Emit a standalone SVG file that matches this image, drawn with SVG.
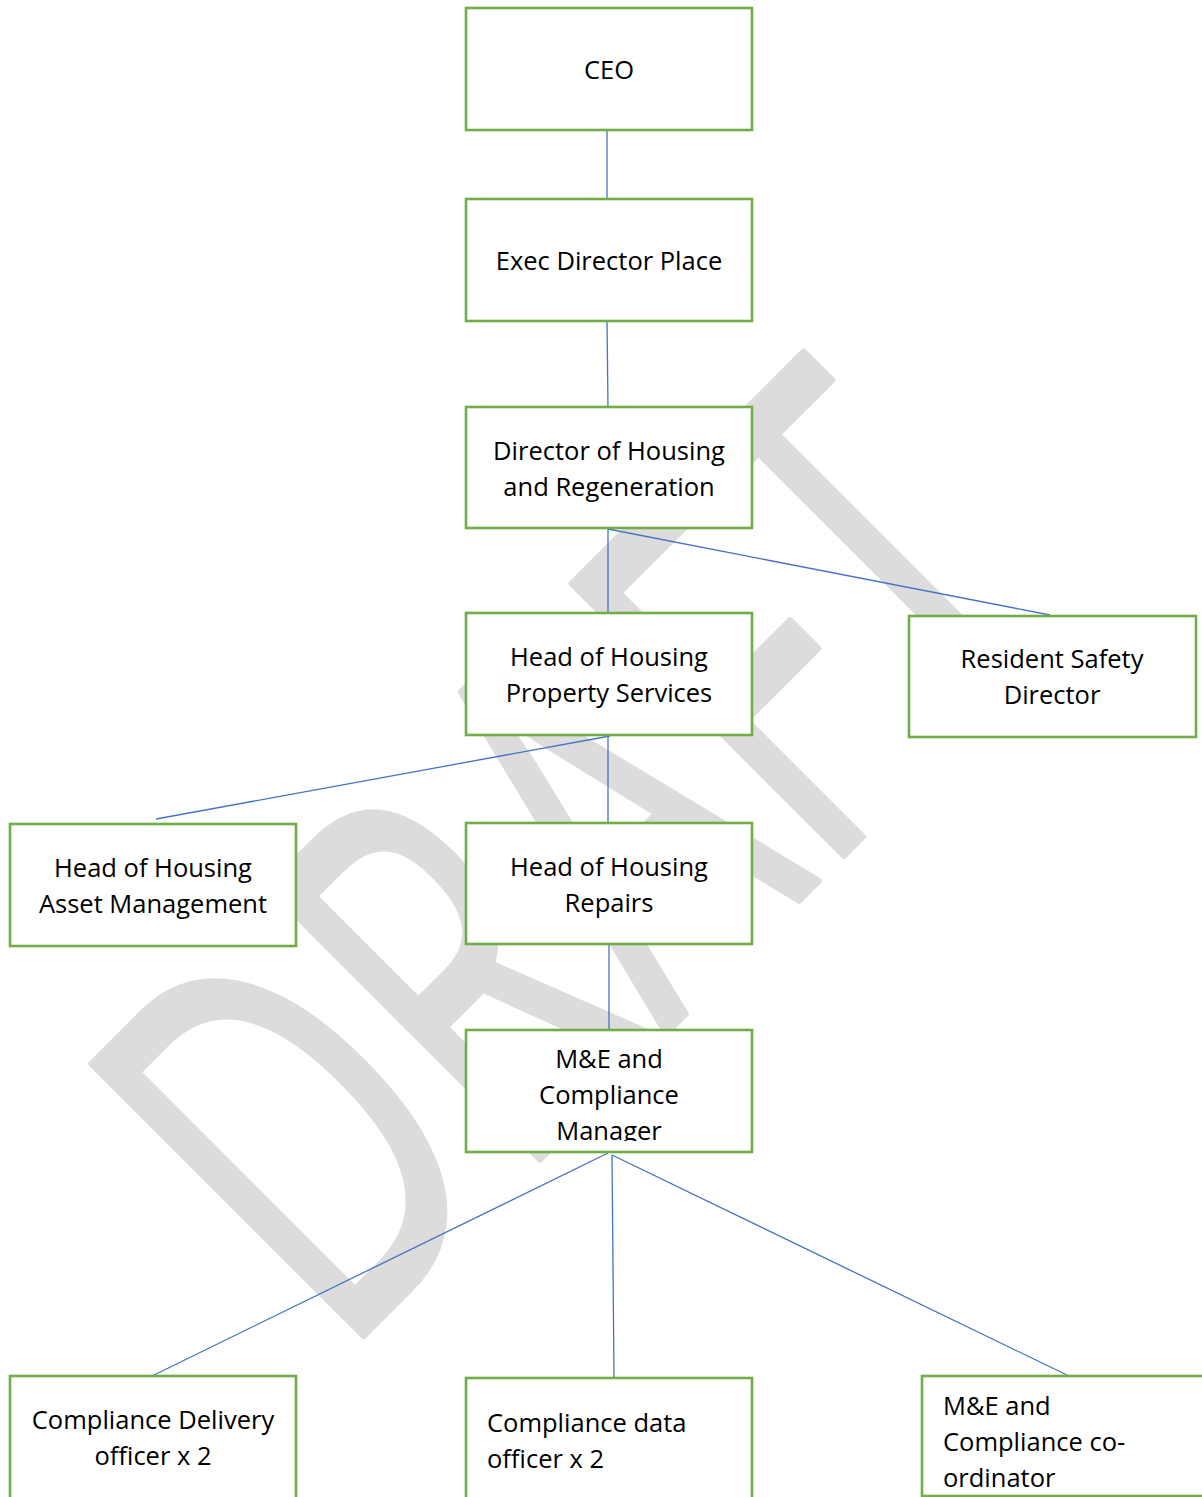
<svg xmlns="http://www.w3.org/2000/svg" width="1202" height="1497" viewBox="0 0 1202 1497">
  <style>
    .box { fill: #ffffff; stroke: #70ad47; stroke-width: 2.6; }
    .t { font-family: "Open Sans", "Liberation Sans", sans-serif; font-size: 25.5px; fill: #000000; }
    .c { text-anchor: middle; }
    .conn line { stroke: #4472c4; stroke-width: 1.3; fill: none; }
    .wm { font-family: "Open Sans", "Liberation Sans", sans-serif; font-size: 538px; fill: #dcdcdc; stroke: #dcdcdc; stroke-width: 7; stroke-linejoin: round; }
  </style>
  <defs>
    <clipPath id="clipMgr">
      <rect x="466" y="1030" width="286" height="111"/>
    </clipPath>
  </defs>
  <rect x="0" y="0" width="1202" height="1497" fill="#ffffff"/>

  <g id="watermark">
    <text class="wm" transform="translate(339,1360) rotate(-45)" x="0" y="0" textLength="1046" lengthAdjust="spacingAndGlyphs">DRAFT</text>
  </g>

  <g id="connectors" class="conn">
    <line x1="607" y1="130" x2="607" y2="199"/>
    <line x1="607" y1="321" x2="608" y2="407"/>
    <line x1="608" y1="529" x2="608" y2="613"/>
    <line x1="608" y1="529" x2="1050" y2="615"/>
    <line x1="610" y1="736" x2="156" y2="819"/>
    <line x1="608" y1="736" x2="608" y2="823"/>
    <line x1="609" y1="945" x2="609" y2="1030"/>
    <line x1="608" y1="1153" x2="152" y2="1376"/>
    <line x1="612" y1="1155" x2="614" y2="1378"/>
    <line x1="612" y1="1155" x2="1071" y2="1377"/>
  </g>

  <g id="ceo">
    <rect class="box" x="466" y="8" width="286" height="122"/>
    <text class="t c" x="609" y="79">CEO</text>
  </g>
  <g id="exec-director-place">
    <rect class="box" x="466" y="199" width="286" height="122"/>
    <text class="t c" x="609" y="270">Exec Director Place</text>
  </g>
  <g id="director-housing-regeneration">
    <rect class="box" x="466" y="407" width="286" height="121"/>
    <text class="t c" x="609" y="460">Director of Housing</text>
    <text class="t c" x="609" y="496">and Regeneration</text>
  </g>
  <g id="head-property-services">
    <rect class="box" x="466" y="613" width="286" height="122"/>
    <text class="t c" x="609" y="666">Head of Housing</text>
    <text class="t c" x="609" y="702">Property Services</text>
  </g>
  <g id="resident-safety-director">
    <rect class="box" x="909" y="616" width="287" height="121"/>
    <text class="t c" x="1052" y="668">Resident Safety</text>
    <text class="t c" x="1052" y="704">Director</text>
  </g>
  <g id="head-asset-management">
    <rect class="box" x="10" y="824" width="286" height="122"/>
    <text class="t c" x="153" y="877">Head of Housing</text>
    <text class="t c" x="153" y="913">Asset Management</text>
  </g>
  <g id="head-repairs">
    <rect class="box" x="466" y="823" width="286" height="121"/>
    <text class="t c" x="609" y="876">Head of Housing</text>
    <text class="t c" x="609" y="912">Repairs</text>
  </g>
  <g id="me-compliance-manager">
    <rect class="box" x="466" y="1030" width="286" height="122"/>
    <g clip-path="url(#clipMgr)">
      <text class="t c" x="609" y="1068">M&amp;E and</text>
      <text class="t c" x="609" y="1104">Compliance</text>
      <text class="t c" x="609" y="1140">Manager</text>
    </g>
  </g>
  <g id="compliance-delivery-officer">
    <rect class="box" x="10" y="1376" width="286" height="140"/>
    <text class="t c" x="153" y="1429">Compliance Delivery</text>
    <text class="t c" x="153" y="1465">officer x 2</text>
  </g>
  <g id="compliance-data-officer">
    <rect class="box" x="466" y="1378" width="286" height="140"/>
    <text class="t" x="487" y="1432">Compliance data</text>
    <text class="t" x="487" y="1468">officer x 2</text>
  </g>
  <g id="me-compliance-coordinator">
    <rect class="box" x="922" y="1376" width="300" height="120"/>
    <text class="t" x="943" y="1415">M&amp;E and</text>
    <text class="t" x="943" y="1451">Compliance co-</text>
    <text class="t" x="943" y="1487">ordinator</text>
  </g>
</svg>
